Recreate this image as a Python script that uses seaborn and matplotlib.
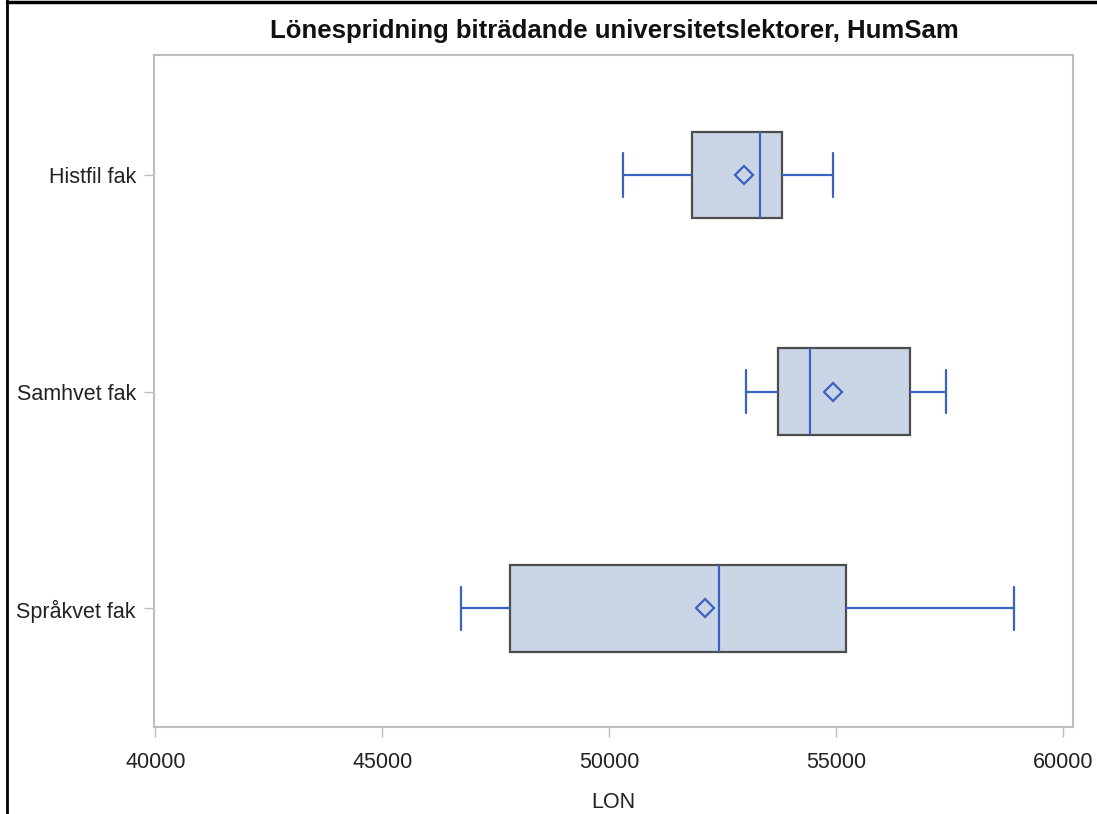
import numpy as np
import pandas as pd
import matplotlib
matplotlib.use("Agg")
import matplotlib.pyplot as plt
from matplotlib.lines import Line2D
import seaborn as sns

# Data (five-number summaries and means)
fakulteter = ["Histfil fak", "Samhvet fak", "Språkvet fak"]
lon_min = [50310, 53010, 46730]
lon_q1 = [51810, 53710, 47810]
lon_median = [53310, 54420, 52420]
lon_q3 = [53810, 56620, 55220]
lon_max = [54920, 57410, 58910]
lon_mean = [52970, 54920, 52110]
x_ticks = [40000, 45000, 50000, 55000, 60000]

# Long table: five values per group reproduce min/quartiles/max exactly
rows = []
for i, fak in enumerate(fakulteter):
    for v in (lon_min[i], lon_q1[i], lon_median[i], lon_q3[i], lon_max[i]):
        rows.append({"fak": fak, "LON": v})
df = pd.DataFrame(rows)

sns.set_theme(style="white")
plt.rcParams["font.family"] = ["Liberation Sans", "DejaVu Sans"]

BLUE = "#3a62c4"
FILL = "#cad5e5"
EDGE = "#4d4d4d"
SPINE = "#bdbdbd"

fig = plt.figure(figsize=(10.97, 8.14), dpi=100)
ax = fig.add_axes([154 / 1097, 1 - 727 / 814, (1073 - 154) / 1097, (727 - 55) / 814])

sns.boxplot(
    data=df, x="LON", y="fak", order=fakulteter, ax=ax,
    whis=(0, 100), width=0.4, fliersize=0,
    boxprops=dict(facecolor=FILL, edgecolor=EDGE, linewidth=1.6),
    whiskerprops=dict(color=BLUE, linewidth=1.6),
    capprops=dict(color=BLUE, linewidth=1.6),
    medianprops=dict(color=BLUE, linewidth=1.6),
)

# caps as wide as half the box
for line in ax.lines:
    y = line.get_ydata()
    x = line.get_xdata()
    if len(x) == 2 and x[0] == x[1] and line.get_color() == BLUE and abs(y[1] - y[0]) < 0.39:
        c = (y[0] + y[1]) / 2
        line.set_ydata([c - 0.1, c + 0.1])

# mean markers
ax.plot(lon_mean, np.arange(len(fakulteter)), linestyle="none", marker="D",
        markersize=9, markerfacecolor="none", markeredgecolor=BLUE,
        markeredgewidth=1.6, zorder=5)

ax.set_xlim(39967, 60214)
ax.set_ylim(2.547, -0.554)
ax.set_xticks(x_ticks)
ax.set_xticklabels([str(t) for t in x_ticks])
ax.set_xlabel("LON", fontsize=15.5, labelpad=14, color="#222222")
ax.set_ylabel("")
ax.tick_params(axis="both", which="both", direction="out", length=7, width=1,
               color=SPINE, labelsize=15.5, labelcolor="#222222", pad=6)
ax.tick_params(axis="x", pad=11)
ax.tick_params(left=True, bottom=True)
for s in ax.spines.values():
    s.set_color(SPINE)
    s.set_linewidth(1.5)

fig.text(614 / 1097, 1 - 31 / 814, "Lönespridning biträdande universitetslektorer, HumSam",
         ha="center", va="center", fontsize=18.5, fontweight="bold", color="#111111")

# outer black frame (top and left as in the screenshot)
fig.add_artist(Line2D([7 / 1097, 1], [1 - 1.5 / 814, 1 - 1.5 / 814],
                      transform=fig.transFigure, color="black", linewidth=2.5))
fig.add_artist(Line2D([7 / 1097, 7 / 1097], [0, 1],
                      transform=fig.transFigure, color="black", linewidth=2))

fig.savefig("out.png", dpi=100)
